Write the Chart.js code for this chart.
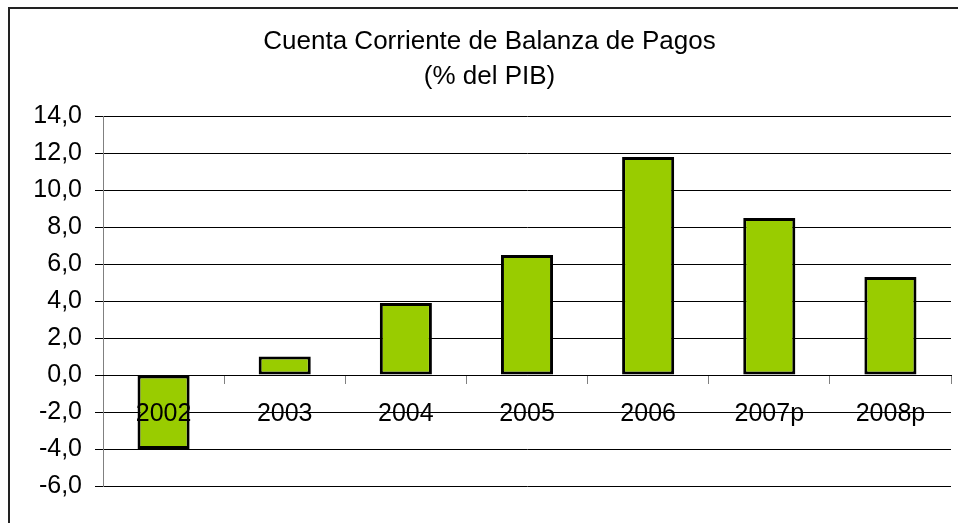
<!DOCTYPE html>
<html>
<head>
<meta charset="utf-8">
<script src="https://cdn.jsdelivr.net/npm/chart.js@4"></script>
<style>
  html, body { margin: 0; padding: 0; background: #fff; }
  #wrap { position: relative; width: 958px; height: 523px; }
</style>
</head>
<body>
<div id="wrap"><canvas id="c"></canvas></div>
<script>
const titleLines = ['Cuenta Corriente de Balanza de Pagos', '(% del PIB)'];
const categories = ['2002', '2003', '2004', '2005', '2006', '2007p', '2008p'];
const values = [-4.0, 1.0, 3.9, 6.5, 11.8, 8.5, 5.3];
const yMin = -6, yMax = 14, yStep = 2;

const FONT = "'Liberation Sans', Arial, sans-serif";

const borderPlugin = {
  id: 'outerBorder',
  beforeDraw(chart) {
    const ctx = chart.ctx;
    ctx.save();
    ctx.fillStyle = '#fff';
    ctx.fillRect(0, 0, chart.width, chart.height);
    ctx.strokeStyle = '#222';
    ctx.lineWidth = 2;
    ctx.beginPath();
    ctx.moveTo(9, chart.height + 5);
    ctx.lineTo(9, 8);
    ctx.lineTo(chart.width + 5, 8);
    ctx.stroke();
    ctx.restore();
  }
};

new Chart(document.getElementById('c'), {
  type: 'bar',
  data: {
    labels: categories,
    datasets: [{
      data: values,
      backgroundColor: '#99CC00',
      borderColor: '#000',
      borderWidth: 3,
      borderSkipped: false,
      categoryPercentage: 1,
      barPercentage: 0.43
    }]
  },
  options: {
    responsive: true,
    maintainAspectRatio: false,
    animation: false,
    devicePixelRatio: 1,
    layout: { padding: { left: 28, right: 7, top: 0, bottom: 37 } },
    plugins: {
      legend: { display: false },
      tooltip: { enabled: false },
      title: {
        display: true,
        text: titleLines,
        color: '#000',
        font: { family: FONT, size: 26, weight: 'normal', lineHeight: 1.35 },
        padding: { top: 24, bottom: 22 }
      }
    },
    scales: {
      y: {
        min: yMin,
        max: yMax,
        afterFit(scale) { scale.width = 75; },
        ticks: {
          stepSize: yStep,
          color: '#000',
          padding: 13,
          font: { family: FONT, size: 25 },
          callback: v => v.toFixed(1).replace('.', ',')
        },
        grid: { color: '#000', lineWidth: 1, tickLength: 8, drawTicks: true },
        border: { display: true, color: '#808080', width: 1 }
      },
      x: {
        position: { y: 0 },
        ticks: {
          z: 2,
          color: '#000',
          padding: 16,
          maxRotation: 0,
          autoSkip: false,
          font: { family: FONT, size: 25 }
        },
        grid: { drawOnChartArea: false, drawTicks: true, tickLength: 8, color: '#808080', offset: true },
        border: { display: true, color: '#000', width: 1 }
      }
    }
  },
  plugins: [borderPlugin]
});
</script>
</body>
</html>
